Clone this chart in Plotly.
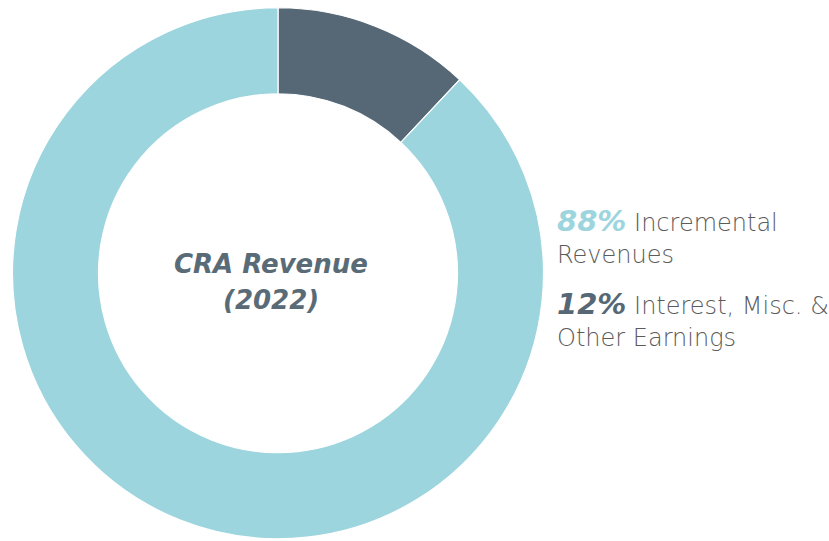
import plotly.graph_objects as go

labels = ["Interest, Misc. & Other Earnings", "Incremental Revenues"]
values = [12, 88]
colors = ["#566876", "#9dd5de"]
center_title = ["CRA Revenue", "(2022)"]

W, H = 829, 541
fig = go.Figure(go.Pie(
    labels=labels, values=values, hole=0.676, sort=False, direction="clockwise",
    rotation=0, marker=dict(colors=colors, line=dict(color="white", width=1.2)),
    textinfo="none", hoverinfo="label+percent", showlegend=False,
    domain=dict(x=[12.5 / W, 543.5 / W], y=[1 - 539.5 / H, 1 - 7 / H]),
))

FONT = "DejaVu Sans"

def ann(x, y, text, size, color, weight=400, italic=False, anchor="left"):
    fig.add_annotation(x=x / W, y=1 - y / H, xref="paper", yref="paper", text=text,
                       showarrow=False, xanchor=anchor, yanchor="middle",
                       font=dict(family=FONT, size=size, color=color, weight=weight,
                                 style="italic" if italic else "normal"))

ann(271, 264, center_title[0], 26, "#5a6b78", 700, True, "center")
ann(271, 300, center_title[1], 26, "#5a6b78", 700, True, "center")

gray = "#5b5b5b"
def pct(v, c):
    return f"<span style='font-size:29px;font-weight:700;font-style:italic;color:{c}'>{v}%</span>"

ann(555, 221, f"{pct(values[1], colors[1])} Incremental", 24, gray, 200)
ann(555, 255, "Revenues", 24, gray, 200)
ann(555, 304, f"{pct(values[0], colors[0])} Interest, Misc. &amp;", 24, gray, 200)
ann(555, 338, "Other Earnings", 24, gray, 200)

fig.update_layout(width=W, height=H, margin=dict(l=0, r=0, t=0, b=0),
                  paper_bgcolor="white", plot_bgcolor="white")
fig.write_html("out.html", config={"displayModeBar": False},
               post_script="document.body.style.margin='0';document.body.style.overflow='hidden';")
